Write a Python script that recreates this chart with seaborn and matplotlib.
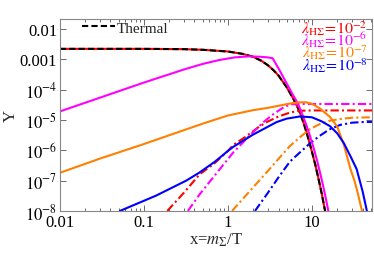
import matplotlib
matplotlib.use('Agg')
import matplotlib.pyplot as plt
from matplotlib import ticker
import seaborn as sns

# ---- data ----
thermal_x = [0.01, 0.1, 0.3, 0.5, 1.0, 1.5, 2.0, 2.5, 3.0, 3.5, 4.0, 5.0, 6.0, 7.0, 8.0, 9.0,
             10, 11, 12, 13, 14, 15]
thermal_y = [2.2e-3, 2.2e-3, 2.15e-3, 2.05e-3, 1.8e-3, 1.5e-3, 1.2e-3, 8.9e-4, 6.3e-4, 4.3e-4,
             2.9e-4, 1.2e-4, 5e-5, 2.1e-5, 7.6e-6, 2.6e-6, 8.9e-7, 3.2e-7, 1.1e-7, 4e-8, 1.4e-8, 5e-9]

# lambda = 1e-6 (magenta)
mag_x = [0.01, 0.1, 0.3, 0.5, 0.8, 1.2, 1.8, 2.5, 3.0, 3.4, 4.0, 5.0, 6.0, 6.7, 7.5, 8.5, 9.5,
         10.5, 11.5, 12.5, 13.5, 14.5, 15.6, 16.5]
mag_y = [1.9e-5, 1.7e-4, 4.6e-4, 7e-4, 9.5e-4, 1.15e-3, 1.25e-3, 1.2e-3, 1.15e-3, 1.08e-3, 5e-4,
         1.6e-4, 6.3e-5, 3.8e-5, 1.8e-5, 7.2e-6, 2.9e-6, 1.15e-6, 4.6e-7, 1.8e-7, 7.2e-8, 2.9e-8,
         1.05e-8, 4.6e-9]
mag_dd_x = [0.334, 0.46, 0.7, 1.16, 1.8, 2.63, 3.3, 3.97, 4.8, 5.9, 7.0, 52]
mag_dd_y = [1e-8, 3.5e-8, 1.5e-7, 8.5e-7, 3e-6, 8.3e-6, 1.4e-5, 2e-5, 2.8e-5, 3.3e-5, 3.35e-5, 3.35e-5]

# lambda = 1e-7 (orange)
ora_x = [0.01, 0.03, 0.1, 0.3, 0.5, 1.0, 2.0, 3.0, 5.0, 6.0, 7.0, 8.5, 10, 12.4, 16.4, 20, 24,
         28.7, 32, 35, 38, 39.4, 41]
ora_y = [1.8e-7, 5.3e-7, 1.6e-6, 4.6e-6, 7.5e-6, 1.4e-5, 2.1e-5, 2.5e-5, 3.3e-5, 3.6e-5, 3.8e-5,
         3.8e-5, 3.4e-5, 2.4e-5, 1.25e-5, 6e-6, 1.5e-6, 2.4e-7, 1e-7, 4e-8, 1.5e-8, 1e-8, 5e-9]
ora_dd_x = [1.12, 2.0, 3.0, 4.16, 5.5, 7.2, 9.5, 12.4, 16, 21.5, 30, 52]
ora_dd_y = [1e-8, 6e-8, 2.1e-7, 5.9e-7, 1.4e-6, 2.7e-6, 5e-6, 7.3e-6, 9.3e-6, 1.07e-5, 1.18e-5, 1.22e-5]

# lambda = 1e-8 (blue)
blu_x = [0.052, 0.14, 0.32, 0.46, 0.7, 1.0, 1.16, 2.0, 3.8, 5.0, 7.2, 10, 13, 16.4, 20, 24, 29,
         34, 37, 40, 43, 45, 46]
blu_y = [1e-8, 3.2e-8, 1e-7, 1.85e-7, 4.2e-7, 9.5e-7, 1.3e-6, 3.3e-6, 8.5e-6, 1.1e-5, 1.3e-5,
         1.22e-5, 9e-6, 6.2e-6, 3.6e-6, 1.7e-6, 6e-7, 2.4e-7, 1e-7, 4.5e-8, 1.8e-8, 1e-8, 7e-9]
blu_dd_x = [2.1, 3.0, 4.16, 5.5, 7.2, 9.5, 12.4, 16, 21.5, 30, 40, 52]
blu_dd_y = [1e-8, 4e-8, 1.5e-7, 4.3e-7, 8.5e-7, 1.7e-6, 3e-6, 4.8e-6, 6.8e-6, 8.1e-6, 8.5e-6, 8.6e-6]

# lambda = 1e-2 (red): solid follows thermal, dash-dot below
red_dd_x = [0.19, 0.3, 0.46, 0.7, 1.0, 1.16, 1.6, 2.4, 2.9, 4.0, 5.5, 7.0, 10, 52]
red_dd_y = [1e-8, 4e-8, 1.6e-7, 3.8e-7, 9.5e-7, 1.5e-6, 2.7e-6, 6.2e-6, 8.5e-6, 1.3e-5, 1.75e-5,
            2e-5, 2.05e-5, 2.05e-5]

lam_labels = ['-2', '-6', '-7', '-8']
lam_colors = ['#ff0000', '#ff00ff', '#ff8000', '#0000ff']

xticks = [0.01, 0.1, 1, 10]
xtick_labels = ['0.01', '0.1', '1', '10']
yticks = [1e-8, 1e-7, 1e-6, 1e-5, 1e-4, 1e-3, 1e-2]
ytick_labels = ['$10^{-8}$', '$10^{-7}$', '$10^{-6}$', '$10^{-5}$', '$10^{-4}$', '0.001', '0.01']

# ---- style ----
sns.set_style('ticks')
plt.rcParams['font.family'] = ['Liberation Serif', 'DejaVu Serif']
plt.rcParams['mathtext.fontset'] = 'stix'

fig = plt.figure(figsize=(3.74, 2.55), dpi=100)
ax = fig.add_axes([0.160, 0.169, 0.835, 0.753])
ax.set_xscale('log')
ax.set_yscale('log')

DD = (0, (4, 1.5, 1, 1.5))
LW = 1.5


def draw(xs, ys, color, ls='-', label=None):
    sns.lineplot(x=xs, y=ys, color=color, linestyle=ls, linewidth=LW, ax=ax,
                 sort=False, estimator=None, label=label)


draw(thermal_x, thermal_y, lam_colors[0])
draw(thermal_x, thermal_y, 'black', ls=(0, (3, 1.5)), label='Thermal')
draw(red_dd_x, red_dd_y, lam_colors[0], ls=DD)
draw(mag_dd_x, mag_dd_y, lam_colors[1], ls=DD)
draw(ora_dd_x, ora_dd_y, lam_colors[2], ls=DD)
draw(blu_dd_x, blu_dd_y, lam_colors[3], ls=DD)
draw(mag_x, mag_y, lam_colors[1])
draw(ora_x, ora_y, lam_colors[2])
draw(blu_x, blu_y, lam_colors[3])

ax.set_xlim(0.01, 52)
ax.set_ylim(1e-8, 0.0214)

ax.set_xticks(xticks)
ax.set_xticklabels(xtick_labels)
ax.set_yticks(yticks)
ax.set_yticklabels(ytick_labels)
ax.xaxis.set_minor_locator(ticker.LogLocator(base=10, subs=range(2, 10)))
ax.yaxis.set_minor_locator(ticker.LogLocator(base=10, subs=range(2, 10)))
ax.xaxis.set_minor_formatter(ticker.NullFormatter())
ax.yaxis.set_minor_formatter(ticker.NullFormatter())
ax.tick_params(which='both', direction='in', top=True, right=True, colors='#555555',
               labelcolor='black', labelsize=12, width=0.6)
ax.tick_params(which='major', length=4, pad=2)
ax.tick_params(which='minor', length=2)
for s in ax.spines.values():
    s.set_color('#888888')
    s.set_linewidth(0.8)

ax.set_xlabel(r'x=$m_\Sigma$/T', fontsize=12, labelpad=1)
ax.set_ylabel('Y', fontsize=12, labelpad=1)

ax.legend(loc='center left', bbox_to_anchor=(0.07, 0.953), frameon=False, fontsize=11,
          handlelength=2.2, handletextpad=0.1, borderaxespad=0, borderpad=0)

ys_txt = [0.928, 0.866, 0.804, 0.736]
for lab, col, yy in zip(lam_labels, lam_colors, ys_txt):
    ax.text(0.985, yy, r'$\lambda_{\mathrm{H\Sigma}}\!=\!10^{' + lab + '}$', color=col,
            transform=ax.transAxes, ha='right', va='baseline', fontsize=11.5)

fig.savefig('out.png', dpi=100)
